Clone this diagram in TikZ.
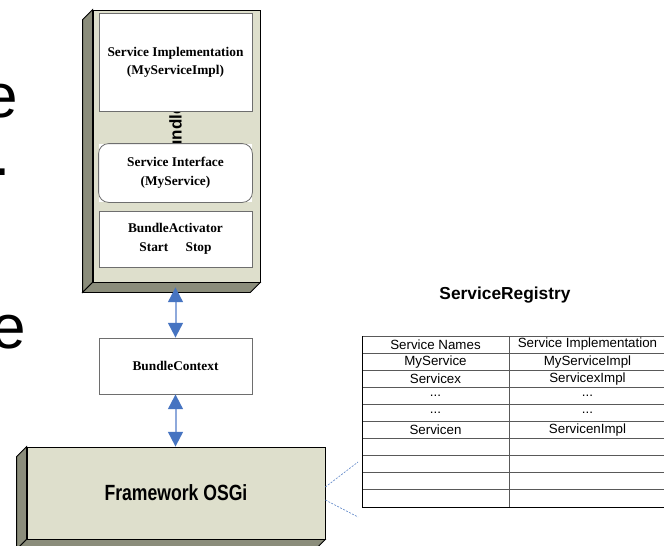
\documentclass[tikz,border=0pt]{standalone}
\usepackage{fontspec}
\usepackage{graphicx}
\setmainfont{Liberation Serif}
\setsansfont{Liberation Sans}
\usetikzlibrary{arrows.meta}

\definecolor{framefront}{HTML}{DEDFCC}
\definecolor{frameside}{HTML}{8B8D7B}
\definecolor{arrowblue}{HTML}{4674C1}
\definecolor{shaftblue}{HTML}{8EA9DB}
\definecolor{boxline}{HTML}{6E6E6E}

% three dots in the table, kept out of the \foreach list parser
\newcommand{\regdots}{...}

\tikzset{
  frontface/.style={draw=black, fill=framefront, line width=0.6pt, inner sep=0pt},
  sideface/.style={draw=black, fill=frameside, line width=0.6pt},
  partbox/.style={draw=boxline, fill=white, line width=0.6pt, minimum width=114.75pt,
    inner sep=0pt, align=center, font=\fontsize{10}{13.5}\selectfont\bfseries},
  linkarrow/.style={draw=shaftblue, line width=1.5pt,
    arrows={Triangle[width=11pt,length=11pt,color=arrowblue]-Triangle[width=11pt,length=11pt,color=arrowblue]}},
  reglink/.style={draw=arrowblue!80, line width=0.5pt, dash pattern=on 1.5pt off 1pt},
  gridline/.style={draw=black!65, line width=0.7pt},
  cell/.style={font=\sffamily\fontsize{10}{12}\selectfont, inner sep=0pt},
  fragment/.style={font=\sffamily\fontsize{46.5}{50}\selectfont, inner sep=0pt, anchor=base west},
}

\begin{document}
\begin{tikzpicture}[x=0.75pt, y=-0.75pt]
	\useasboundingbox (0,0) rectangle (664,546);
	\fill[white] (0,0) rectangle (664,546);
	\clip (0,0) rectangle (664,546);

	% cut-off slide text on the left
	\node[fragment] (frag-e1) at (-17,117) {e};
	\node[fragment] (frag-dot) at (-7,175) {.};
	\node[fragment] (frag-e2) at (-9,348) {e};

	% bundle frame
	\node[frontface, minimum width=125.25pt, minimum height=204pt] (bundle) at (176.5,146) {};
	\draw[sideface] (bundle.north west) -- ++(-10,10) -- ([shift={(-10,10)}]bundle.south west) -- (bundle.south west) -- cycle;
	\draw[sideface] (bundle.south west) -- ++(-10,10) -- ([shift={(-10,10)}]bundle.south east) -- (bundle.south east) -- cycle;
	\node[rotate=90, inner sep=0pt, font=\sffamily\bfseries\fontsize{12.75}{14}\selectfont] (bundle-label) at (175.5,134) {Bundle};

	% parts inside the bundle
	\node[partbox, minimum height=73.5pt] (impl) at (175.5,62) {Service Implementation\\(MyServiceImpl)};
	\node[partbox, draw=none, minimum height=43.5pt, font=\fontsize{10}{14.5}\selectfont\bfseries] (iface) at (175.5,173) {Service Interface\\(MyService)};
	\draw[boxline, line width=0.6pt, rounded corners=7.5pt] (iface.south west) rectangle (iface.north east);
	\node[partbox, minimum height=42pt, font=\fontsize{10}{14}\selectfont\bfseries] (activator) at (175.5,239) {BundleActivator\\Start\hspace{13pt}Stop};

	% context and framework
	\node[partbox, minimum height=42pt] (context) at (175.5,366) {BundleContext};
	\node[frontface, minimum width=223.5pt, minimum height=69pt] (framework) at (176,493)
		{\scalebox{0.8}[1]{\sffamily\bfseries\fontsize{16.5}{18}\selectfont Framework OSGi}};
	\draw[sideface] (framework.north west) -- ++(-10,10) -- ([shift={(-10,10)}]framework.south west) -- (framework.south west) -- cycle;
	\draw[sideface] (framework.south west) -- ++(-10,10) -- ([shift={(-10,10)}]framework.south east) -- (framework.south east) -- cycle;

	\draw[linkarrow] ([yshift=-3.75pt]context.north |- bundle.south) -- (context.north);
	\draw[linkarrow] (context.south) -- (context.south |- framework.north);

	% service registry table
	\node[font=\sffamily\bfseries\fontsize{13}{15}\selectfont, inner sep=0pt] (registry) at (505,295) {ServiceRegistry};
	\foreach \k in {0,...,10}
		\draw[gridline] (362,{336+17.1*\k}) -- (664,{336+17.1*\k});
	\draw[gridline] (509,336) -- (509,507);
	\draw[black, line width=0.7pt] (362,336) -- (362,507) -- (664,507);
	\foreach \svc/\svcimpl [count=\r from 0] in {Service Names/Service Implementation,
		MyService/MyServiceImpl, Servicex/ServicexImpl, \regdots/\regdots, \regdots/\regdots, Servicen/ServicenImpl} {
		\node[cell] (name-\r) at (435.5,{344.5+17.1*\r}) {\svc};
		\node[cell] (impl-\r) at (587.5,{344.5+17.1*\r}) {\svcimpl};
	}

	% framework to registry
	\coordinate (reg-in-a) at (358,462);
	\coordinate (reg-in-b) at (358,517);
	\draw[reglink] ([yshift=4.5pt]framework.east) -- (reg-in-a);
	\draw[reglink] ([yshift=-5.25pt]framework.east) -- (reg-in-b);
\end{tikzpicture}
\end{document}
